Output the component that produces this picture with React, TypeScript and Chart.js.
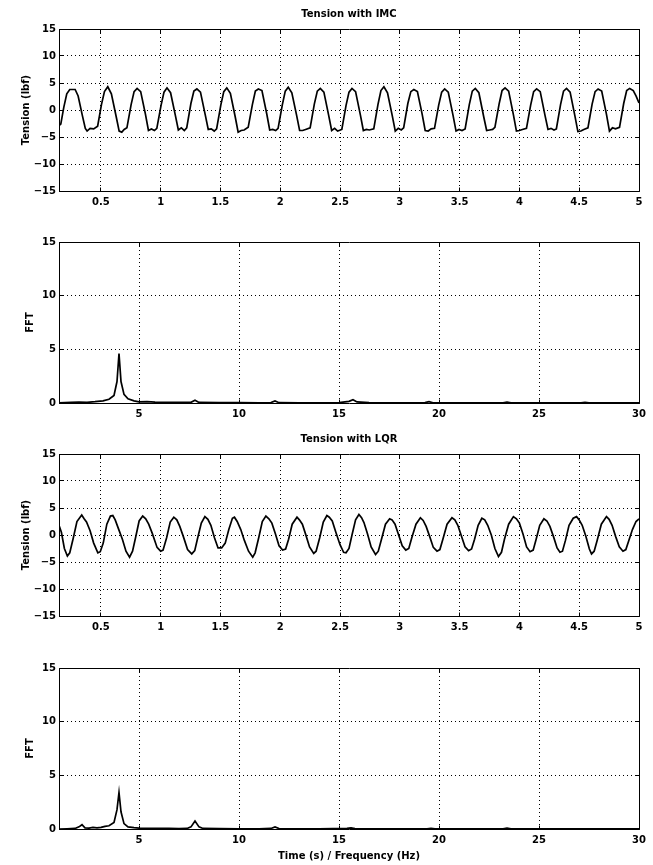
import React, { useEffect, useRef } from 'react';
import { Chart, registerables } from 'chart.js';

Chart.register(...registerables);

// ---------- tick definitions ----------
const TIME_TICKS = [0.5, 1, 1.5, 2, 2.5, 3, 3.5, 4, 4.5, 5];
const TIME_TICK_LABELS = ['0.5', '1', '1.5', '2', '2.5', '3', '3.5', '4', '4.5', '5'];
const FREQ_TICKS = [5, 10, 15, 20, 25, 30];
const FREQ_TICK_LABELS = ['5', '10', '15', '20', '25', '30'];
const TENSION_TICKS = [-15, -10, -5, 0, 5, 10, 15];
const TENSION_TICK_LABELS = ['\u221215', '\u221210', '\u22125', '0', '5', '10', '15'];
const FFT_TICKS = [0, 5, 10, 15];
const FFT_TICK_LABELS = ['0', '5', '10', '15'];

// ---------- data: [time (s), tension (lbf)] ----------
const IMC_TENSION: [number, number][] = [
  [0.15, -2.9], [0.165, -2.6], [0.19, 0.5], [0.215, 3.0], [0.24, 3.8], [0.285, 3.8], [0.31, 2.6], [0.345, -1.0], [0.37, -3.4], [0.385, -3.9], [0.41, -3.4], [0.44, -3.5],
  [0.473, -3.0], [0.505, 1.0], [0.53, 3.4], [0.558, 4.3], [0.588, 3.0], [0.628, -1.2], [0.653, -3.9], [0.675, -4.1], [0.695, -3.6],
  [0.718, -3.3], [0.753, 1.0], [0.778, 3.4], [0.803, 4.0], [0.833, 3.4], [0.873, -0.8], [0.898, -3.8], [0.923, -3.5], [0.948, -3.8],
  [0.968, -3.4], [1.003, 0.8], [1.028, 3.3], [1.053, 4.1], [1.083, 3.2], [1.123, -1.0], [1.148, -3.7], [1.173, -3.3], [1.198, -3.8],
  [1.218, -3.3], [1.253, 1.2], [1.278, 3.5], [1.303, 3.9], [1.333, 3.3], [1.373, -0.9], [1.398, -3.6], [1.423, -3.5], [1.448, -3.9],
  [1.468, -3.5], [1.503, 0.9], [1.528, 3.4], [1.553, 4.1], [1.583, 3.1], [1.623, -1.2], [1.648, -4.1], [1.673, -3.8], [1.698, -3.7],
  [1.732, -3.2], [1.767, 1.0], [1.792, 3.5], [1.817, 3.9], [1.847, 3.6], [1.887, -0.7], [1.912, -3.7], [1.937, -3.6], [1.962, -3.8],
  [1.982, -3.4], [2.017, 0.9], [2.042, 3.5], [2.067, 4.2], [2.097, 3.2], [2.137, -1.0], [2.162, -3.8], [2.187, -3.8], [2.212, -3.6],
  [2.25, -3.3], [2.285, 1.1], [2.31, 3.5], [2.335, 4.0], [2.365, 3.3], [2.405, -1.0], [2.43, -3.8], [2.455, -3.4], [2.48, -3.9],
  [2.515, -3.6], [2.55, 0.8], [2.575, 3.3], [2.6, 4.0], [2.63, 3.4], [2.67, -0.9], [2.695, -3.8], [2.72, -3.6], [2.745, -3.7],
  [2.782, -3.5], [2.817, 1.0], [2.842, 3.6], [2.867, 4.3], [2.897, 3.2], [2.937, -1.1], [2.962, -3.9], [2.987, -3.4], [3.012, -3.7],
  [3.032, -3.3], [3.067, 1.2], [3.092, 3.4], [3.117, 3.8], [3.147, 3.4], [3.187, -0.8], [3.212, -3.8], [3.237, -3.9], [3.262, -3.5],
  [3.29, -3.4], [3.325, 0.9], [3.35, 3.3], [3.375, 3.9], [3.405, 3.3], [3.445, -1.0], [3.47, -3.9], [3.495, -3.6], [3.52, -3.8],
  [3.546, -3.5], [3.581, 1.0], [3.606, 3.5], [3.631, 4.0], [3.661, 3.2], [3.701, -1.2], [3.726, -3.8], [3.751, -3.7], [3.776, -3.6],
  [3.795, -3.2], [3.83, 1.1], [3.855, 3.6], [3.88, 4.1], [3.91, 3.5], [3.95, -0.9], [3.975, -3.9], [4.0, -3.8], [4.025, -3.6],
  [4.059, -3.4], [4.094, 0.9], [4.119, 3.4], [4.144, 3.9], [4.174, 3.4], [4.214, -1.0], [4.239, -3.6], [4.264, -3.4], [4.289, -3.7],
  [4.309, -3.5], [4.344, 1.0], [4.369, 3.5], [4.394, 4.0], [4.424, 3.3], [4.464, -1.1], [4.489, -4.0], [4.514, -3.9], [4.539, -3.6],
  [4.573, -3.3], [4.608, 1.1], [4.633, 3.4], [4.658, 3.9], [4.688, 3.5], [4.728, -0.8], [4.753, -3.9], [4.778, -3.3], [4.803, -3.5],
  [4.837, -3.2], [4.872, 1.2], [4.897, 3.6], [4.922, 4.0], [4.952, 3.6], [4.975, 2.6], [5.0, 1.3],
];

const LQR_TENSION: [number, number][] = [
  [0.15, 1.8], [0.17, 0.5], [0.195, -2.5], [0.22, -3.9], [0.24, -3.3], [0.27, -0.5], [0.30, 2.5], [0.34, 3.7], [0.36, 3.0], [0.38, 2.4],
  [0.41, 0.8], [0.44, -1.5], [0.475, -3.3], [0.495, -3.1], [0.52, -1.5], [0.55, 2.0], [0.58, 3.5], [0.6, 3.6], [0.62, 2.8], [0.65, 1.0],
  [0.68, -0.8], [0.71, -3.0], [0.74, -4.1], [0.765, -3.0], [0.79, -0.5], [0.82, 2.6], [0.85, 3.5], [0.875, 3.0], [0.9, 2.0], [0.93, 0.3],
  [0.97, -2.3], [1.0, -3.0], [1.02, -2.8], [1.05, -0.5], [1.08, 2.4], [1.11, 3.3], [1.135, 2.8], [1.16, 1.6], [1.19, -0.3], [1.225, -2.7],
  [1.26, -3.5], [1.285, -2.9], [1.31, -0.5], [1.34, 2.2], [1.37, 3.4], [1.395, 2.9], [1.42, 1.8], [1.45, -0.5], [1.48, -2.4], [1.51, -2.4],
  [1.54, -1.5], [1.57, 1.0], [1.60, 3.1], [1.617, 3.3], [1.64, 2.5], [1.67, 1.0], [1.70, -1.0], [1.735, -3.0], [1.77, -4.1], [1.79, -3.3],
  [1.82, -0.5], [1.85, 2.5], [1.88, 3.5], [1.905, 3.0], [1.93, 2.2], [1.96, 0.2], [1.99, -2.0], [2.02, -2.8], [2.045, -2.6], [2.07, -0.8],
  [2.10, 2.0], [2.14, 3.3], [2.16, 2.8], [2.185, 2.0], [2.21, 0.3], [2.245, -2.2], [2.28, -3.4], [2.30, -3.0], [2.33, -0.5], [2.36, 2.4],
  [2.39, 3.6], [2.41, 3.3], [2.435, 2.6], [2.465, 0.5], [2.5, -1.8], [2.53, -3.2], [2.55, -3.3], [2.575, -2.5], [2.60, 0.0], [2.63, 2.8],
  [2.658, 3.8], [2.68, 3.2], [2.7, 2.3], [2.73, 0.2], [2.76, -2.2], [2.797, -3.6], [2.82, -3.0], [2.85, -0.5], [2.88, 2.0], [2.915, 3.0],
  [2.935, 2.8], [2.96, 2.0], [2.99, 0.0], [3.02, -2.0], [3.05, -2.8], [3.075, -2.5], [3.1, -0.5], [3.135, 2.0], [3.172, 3.2], [3.195, 2.7],
  [3.22, 1.6], [3.25, -0.3], [3.28, -2.3], [3.311, -3.0], [3.335, -2.7], [3.36, -0.8], [3.395, 2.0], [3.436, 3.2], [3.46, 2.8], [3.485, 1.8],
  [3.515, -0.2], [3.545, -2.2], [3.575, -2.9], [3.6, -2.6], [3.625, -0.8], [3.655, 1.8], [3.686, 3.1], [3.71, 2.8], [3.735, 1.8], [3.765, 0.0],
  [3.795, -2.5], [3.825, -4.0], [3.85, -3.2], [3.875, -0.8], [3.91, 2.0], [3.95, 3.4], [3.975, 3.0], [4.0, 2.2], [4.03, 0.2], [4.06, -2.2],
  [4.089, -3.1], [4.115, -2.8], [4.14, -0.8], [4.17, 1.8], [4.205, 3.0], [4.23, 2.6], [4.255, 1.6], [4.285, -0.3], [4.315, -2.4], [4.339, -3.2],
  [4.36, -3.0], [4.385, -1.0], [4.415, 1.8], [4.45, 3.1], [4.478, 3.4], [4.5, 2.8], [4.525, 1.8], [4.555, -0.2], [4.585, -2.6], [4.603, -3.5],
  [4.625, -3.0], [4.65, -1.0], [4.685, 2.0], [4.728, 3.4], [4.75, 2.9], [4.775, 1.8], [4.805, -0.3], [4.835, -2.2], [4.866, -3.0], [4.89, -2.7],
  [4.915, -1.0], [4.945, 1.0], [4.975, 2.5], [5.0, 3.0],
];

// ---------- data: [frequency (Hz), FFT magnitude] ----------
const IMC_FFT: [number, number][] = [
  [1.0, 0.02], [1.6, 0.05], [2.0, 0.08], [2.4, 0.06], [2.8, 0.12], [3.2, 0.2], [3.5, 0.35], [3.75, 0.7], [3.9, 2.0], [4.0, 4.6],
  [4.1, 2.0], [4.25, 0.8], [4.45, 0.4], [4.75, 0.2], [5.0, 0.1], [5.4, 0.12], [5.8, 0.08], [6.4, 0.05], [7.0, 0.05], [7.6, 0.06],
  [7.8, 0.25], [8.0, 0.05], [9.0, 0.03], [10.0, 0.03], [11.0, 0.02], [11.6, 0.04], [11.8, 0.2], [12.0, 0.03], [13.0, 0.02], [14.0, 0.02],
  [15.0, 0.03], [15.5, 0.15], [15.7, 0.3], [15.9, 0.1], [16.5, 0.03], [18.0, 0.02], [19.3, 0.03], [19.5, 0.12], [19.7, 0.02], [21.0, 0.02],
  [23.2, 0.02], [23.4, 0.08], [23.6, 0.02], [25.0, 0.01], [27.1, 0.02], [27.3, 0.06], [27.5, 0.02], [30.0, 0.01],
];

const LQR_FFT: [number, number][] = [
  [1.0, 0.0], [1.4, 0.02], [1.8, 0.05], [2.0, 0.2], [2.15, 0.4], [2.3, 0.1], [2.5, 0.08], [2.7, 0.15], [2.9, 0.1], [3.1, 0.15],
  [3.3, 0.25], [3.5, 0.3], [3.75, 0.6], [3.9, 1.8], [4.0, 3.4], [4.1, 1.6], [4.25, 0.5], [4.45, 0.2], [4.75, 0.12], [5.0, 0.08],
  [5.5, 0.06], [6.0, 0.05], [6.5, 0.06], [7.0, 0.03], [7.4, 0.05], [7.6, 0.2], [7.8, 0.75], [8.0, 0.2], [8.2, 0.05], [9.0, 0.03],
  [10.0, 0.02], [11.0, 0.02], [11.6, 0.05], [11.8, 0.2], [12.0, 0.04], [13.0, 0.02], [14.0, 0.02], [15.4, 0.05], [15.6, 0.1], [15.8, 0.04],
  [17.0, 0.02], [19.4, 0.02], [19.6, 0.06], [19.8, 0.02], [21.0, 0.01], [23.2, 0.02], [23.4, 0.08], [23.6, 0.02], [27.0, 0.01], [30.0, 0.01],
];

const FONT_FAMILY = '"DejaVu Sans", "Liberation Sans", Arial, sans-serif';

const align = (p: number) => Math.round(p - 0.5) + 0.5;

const framePlugin = {
  id: 'matlabFrame',
  afterDatasetsDraw(chart: any, _args: any, opts: any) {
    const { ctx, chartArea } = chart;
    const { left, right, top, bottom } = chartArea;
    const xs = chart.scales.x;
    const ys = chart.scales.y;
    const L = align(left), R = align(right), T = align(top), B = align(bottom);
    const tl = 4;
    ctx.save();
    ctx.setLineDash([]);
    ctx.strokeStyle = '#000';
    ctx.lineWidth = 1;
    ctx.beginPath();
    ctx.rect(L, T, R - L, B - T);
    for (const t of xs.ticks) {
      const px = align(xs.getPixelForValue(t.value));
      ctx.moveTo(px, T); ctx.lineTo(px, T + tl);
      ctx.moveTo(px, B); ctx.lineTo(px, B - tl);
    }
    for (const t of ys.ticks) {
      const py = align(ys.getPixelForValue(t.value));
      ctx.moveTo(L, py); ctx.lineTo(L + tl, py);
      ctx.moveTo(R, py); ctx.lineTo(R - tl, py);
    }
    ctx.stroke();
    if (opts && opts.title) {
      ctx.fillStyle = '#000';
      ctx.font = 'bold 10px ' + FONT_FAMILY;
      ctx.textAlign = 'center';
      ctx.textBaseline = 'middle';
      ctx.fillText(opts.title, (left + right) / 2, top - 14.5);
    }
    ctx.restore();
  },
};

type PanelSpec = {
  top: number;
  height: number;
  padTop: number;
  xAxisHeight: number;
  title?: string;
  data: [number, number][];
  xMin: number;
  xMax: number;
  xTicks: number[];
  xLabels: string[];
  yMin: number;
  yMax: number;
  yTicks: number[];
  yLabels: string[];
  yTitle: string;
  yTitlePad: number;
  xTitle?: string;
};

function Panel({ spec }: { spec: PanelSpec }) {
  const ref = useRef<HTMLCanvasElement | null>(null);
  useEffect(() => {
    if (!ref.current) return;
    const tickFont = { family: FONT_FAMILY, size: 10, weight: 'bold' as const, lineHeight: 1.2 };
    const chart = new Chart(ref.current, {
      type: 'line',
      data: {
        datasets: [
          {
            data: spec.data.map(([x, y]) => ({ x, y })),
            borderColor: '#000',
            borderWidth: 1.7,
            pointRadius: 0,
            tension: 0,
            fill: false,
          },
        ],
      },
      options: {
        responsive: false,
        animation: false,
        devicePixelRatio: 1,
        layout: { padding: { top: spec.padTop, right: 14, left: 0, bottom: 0 } },
        plugins: {
          legend: { display: false },
          tooltip: { enabled: false },
          title: { display: false },
          matlabFrame: { title: spec.title },
        } as any,
        scales: {
          x: {
            type: 'linear',
            min: spec.xMin,
            max: spec.xMax,
            afterBuildTicks: (scale: any) => {
              scale.ticks = spec.xTicks.map((v) => ({ value: v }));
            },
            afterFit: (scale: any) => {
              scale.height = spec.xAxisHeight;
            },
            ticks: {
              autoSkip: false,
              maxRotation: 0,
              minRotation: 0,
              padding: 5,
              color: '#000',
              font: tickFont,
              callback: (value: any) => {
                const i = spec.xTicks.indexOf(Number(value));
                return i >= 0 ? spec.xLabels[i] : '';
              },
            },
            grid: { color: '#000', lineWidth: 1, drawTicks: false },
            border: { display: false, dash: [1, 3] },
            title: spec.xTitle
              ? { display: true, text: spec.xTitle, color: '#000', font: tickFont, padding: { top: 0, bottom: 3 } }
              : { display: false },
          },
          y: {
            type: 'linear',
            min: spec.yMin,
            max: spec.yMax,
            afterBuildTicks: (scale: any) => {
              scale.ticks = spec.yTicks.map((v) => ({ value: v }));
            },
            afterFit: (scale: any) => {
              scale.width = 59;
            },
            ticks: {
              autoSkip: false,
              padding: 3,
              color: '#000',
              font: tickFont,
              callback: (value: any) => {
                const i = spec.yTicks.indexOf(Number(value));
                return i >= 0 ? spec.yLabels[i] : '';
              },
            },
            grid: { color: '#000', lineWidth: 1, drawTicks: false },
            border: { display: false, dash: [1, 3] },
            title: {
              display: true,
              text: spec.yTitle,
              color: '#000',
              font: tickFont,
              padding: { top: spec.yTitlePad, bottom: 0 },
            },
          },
        },
      } as any,
      plugins: [framePlugin],
    });
    return () => chart.destroy();
  }, [spec]);
  return (
    <canvas
      ref={ref}
      width={653}
      height={spec.height}
      style={{ position: 'absolute', left: 0, top: spec.top, width: 653, height: spec.height }}
    />
  );
}

const PANELS: PanelSpec[] = [
  {
    top: 0, height: 212, padTop: 29, xAxisHeight: 21, title: 'Tension with IMC', data: IMC_TENSION,
    xMin: 0.15, xMax: 5, xTicks: TIME_TICKS, xLabels: TIME_TICK_LABELS,
    yMin: -15, yMax: 15, yTicks: TENSION_TICKS, yLabels: TENSION_TICK_LABELS, yTitle: 'Tension (lbf)', yTitlePad: 20,
  },
  {
    top: 212, height: 213, padTop: 30, xAxisHeight: 22, data: IMC_FFT,
    xMin: 1, xMax: 30, xTicks: FREQ_TICKS, xLabels: FREQ_TICK_LABELS,
    yMin: 0, yMax: 15, yTicks: FFT_TICKS, yLabels: FFT_TICK_LABELS, yTitle: 'FFT', yTitlePad: 24,
  },
  {
    top: 425, height: 212, padTop: 29, xAxisHeight: 21, title: 'Tension with LQR', data: LQR_TENSION,
    xMin: 0.15, xMax: 5, xTicks: TIME_TICKS, xLabels: TIME_TICK_LABELS,
    yMin: -15, yMax: 15, yTicks: TENSION_TICKS, yLabels: TENSION_TICK_LABELS, yTitle: 'Tension (lbf)', yTitlePad: 20,
  },
  {
    top: 637, height: 228, padTop: 31, xAxisHeight: 36, data: LQR_FFT,
    xMin: 1, xMax: 30, xTicks: FREQ_TICKS, xLabels: FREQ_TICK_LABELS,
    yMin: 0, yMax: 15, yTicks: FFT_TICKS, yLabels: FFT_TICK_LABELS, yTitle: 'FFT', yTitlePad: 24,
    xTitle: 'Time (s) / Frequency (Hz)',
  },
];

export default function App() {
  return (
    <div style={{ position: 'absolute', left: 0, top: 0, width: 653, height: 865, background: '#fff', overflow: 'hidden' }}>
      {PANELS.map((p, i) => (
        <Panel key={i} spec={p} />
      ))}
    </div>
  );
}
